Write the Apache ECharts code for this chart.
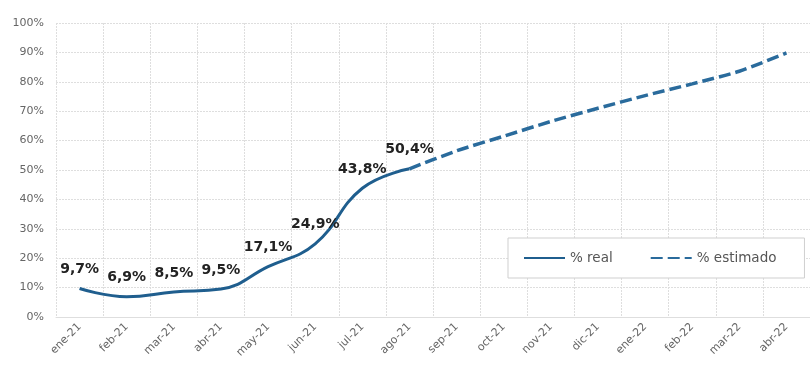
<!DOCTYPE html>
<html>
<head>
<meta charset="utf-8">
<script src="https://cdn.jsdelivr.net/npm/echarts@6/dist/echarts.min.js"></script>
<style>
html,body{margin:0;padding:0;background:#fff;}
#chart{width:810px;height:368px;}
</style>
</head>
<body>
<div id="chart"></div>
<script>
const categories = ['ene-21','feb-21','mar-21','abr-21','may-21','jun-21','jul-21','ago-21','sep-21','oct-21','nov-21','dic-21','ene-22','feb-22','mar-22','abr-22'];
const realValues = [9.7, 6.9, 8.5, 9.5, 17.1, 24.9, 43.8, 50.4, null, null, null, null, null, null, null, null];
const estValues = [null, null, null, null, null, null, null, 50.4, 56.5, 61.5, 66.5, 71, 75.3, 79.3, 83.6, 89.8];
const yTicks = [0, 10, 20, 30, 40, 50, 60, 70, 80, 90, 100];

const gridColor = '#dedede';
const chart = echarts.init(document.getElementById('chart'), null, {renderer: 'canvas'});
chart.setOption({
  animation: false,
  backgroundColor: '#fff',
  grid: {left: 56, top: 23, right: -20, bottom: 51},
  legend: {
    left: 508, top: 238,
    padding: [13, 28, 13, 15],
    itemGap: 37,
    itemWidth: 41, itemHeight: 12,
    backgroundColor: '#fff',
    borderColor: '#cfcfcf', borderWidth: 1,
    itemStyle: {opacity: 0},
    textStyle: {fontFamily: 'DejaVu Sans', fontSize: 13.5, color: '#555'},
    data: ['% real', '% estimado']
  },
  xAxis: {
    type: 'category',
    data: categories,
    boundaryGap: true,
    axisLine: {lineStyle: {color: gridColor}},
    axisTick: {show: false},
    splitLine: {show: true, lineStyle: {color: gridColor, type: [2, 1]}},
    axisLabel: {rotate: 45, interval: 0, margin: 8, color: '#666', fontFamily: 'DejaVu Sans', fontSize: 11}
  },
  yAxis: {
    type: 'value',
    min: yTicks[0], max: yTicks[yTicks.length - 1], interval: 10,
    axisLine: {show: false},
    axisTick: {show: false},
    splitLine: {lineStyle: {color: gridColor, type: [2, 1]}},
    axisLabel: {formatter: '{value}%', margin: 12, color: '#666', fontFamily: 'DejaVu Sans', fontSize: 11}
  },
  series: [
    {
      name: '% real',
      type: 'line',
      data: realValues,
      smooth: 0.45,
      symbol: 'circle',
      symbolSize: 0,
      showSymbol: true,
      lineStyle: {color: '#1f5e8e', width: 3},
      itemStyle: {color: '#1f5e8e'},
      label: {
        show: true, position: 'top', distance: 12,
        fontFamily: 'DejaVu Sans', fontWeight: 'bold', fontSize: 14, color: '#222',
        formatter: p => p.value == null ? '' : Number(p.value).toFixed(1).replace('.', ',') + '%'
      },
      z: 3
    },
    {
      name: '% estimado',
      type: 'line',
      data: estValues,
      smooth: 0.25,
      symbol: 'none',
      lineStyle: {color: '#2a6b9c', width: 3.5, type: [12, 5]},
      itemStyle: {color: '#2a6b9c'},
      z: 2
    }
  ]
});
</script>
</body>
</html>
